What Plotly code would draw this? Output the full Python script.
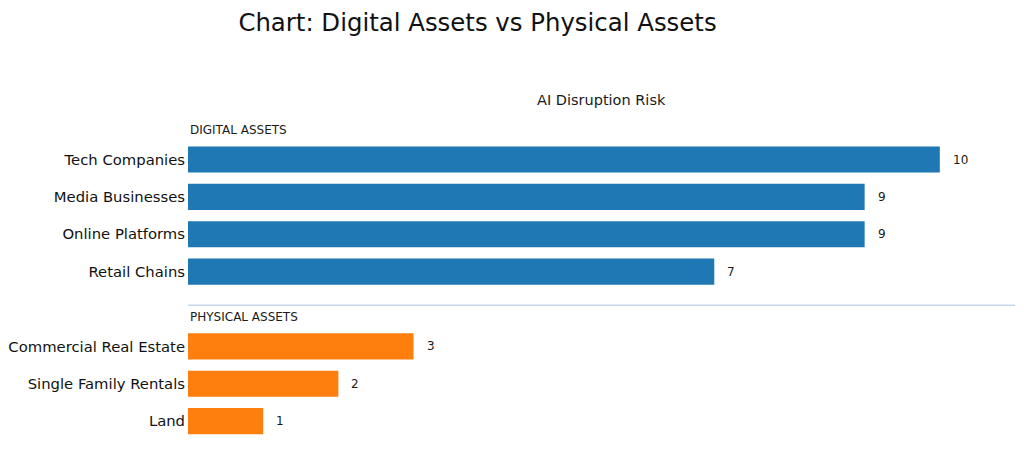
import plotly.graph_objects as go

# ---- data ----
digital_labels = ["Tech Companies", "Media Businesses", "Online Platforms", "Retail Chains"]
digital_values = [10, 9, 9, 7]
physical_labels = ["Commercial Real Estate", "Single Family Rentals", "Land"]
physical_values = [3, 2, 1]
group_titles = ["DIGITAL ASSETS", "PHYSICAL ASSETS"]
title_text = "Chart: Digital Assets vs Physical Assets"
axis_title = "AI Disruption Risk"

BLUE = "#1f77b4"
ORANGE = "#ff7f0e"
FONT = "DejaVu Sans"

# positions: groups separated by one empty slot
digital_pos = list(range(len(digital_labels)))
physical_start = len(digital_labels) + 1
physical_pos = [physical_start + i for i in range(len(physical_labels))]

fig = go.Figure()
fig.add_trace(go.Bar(x=digital_values, y=digital_pos, orientation="h",
                     marker=dict(color=BLUE, line=dict(width=0)), width=0.7,
                     hoverinfo="x+y", showlegend=False))
fig.add_trace(go.Bar(x=physical_values, y=physical_pos, orientation="h",
                     marker=dict(color=ORANGE, line=dict(width=0)), width=0.7,
                     hoverinfo="x+y", showlegend=False))

annotations = []
for v, p in zip(digital_values + physical_values, digital_pos + physical_pos):
    annotations.append(dict(x=v, y=p, xref="x", yref="y", text=str(v),
                            showarrow=False, xanchor="left", yanchor="middle",
                            xshift=11, font=dict(family=FONT, size=12, color="#1a1a1a")))

# group headers
for title, first in zip(group_titles, [digital_pos[0], physical_pos[0]]):
    annotations.append(dict(x=0, y=first - 0.78, xref="paper", yref="y", text=title,
                            showarrow=False, xanchor="left", yanchor="middle",
                            font=dict(family=FONT, size=12, color="#1a1a1a")))

# axis title above plot
annotations.append(dict(x=0.5, y=1, xref="paper", yref="paper", text=axis_title,
                        showarrow=False, xanchor="center", yanchor="bottom",
                        font=dict(family=FONT, size=14.5, color="#1a1a1a")))

sep_y = len(digital_labels) - 0.1
fig.add_shape(type="line", xref="paper", yref="y", x0=0, x1=1, y0=sep_y, y1=sep_y,
              line=dict(color="#c6d9ec", width=1.5))

fig.update_layout(
    width=1024, height=460,
    margin=dict(l=180, r=17, t=102, b=23, autoexpand=False),
    paper_bgcolor="white", plot_bgcolor="white",
    title=dict(text=title_text, x=469.5 / 1024, xanchor="center",
               y=1 - 14 / 460, yanchor="middle", xref="container", yref="container",
               font=dict(family=FONT, size=24.4, color="#111")),
    font=dict(family=FONT),
    annotations=annotations,
    bargap=0.3,
)
fig.update_xaxes(range=[0, 11], visible=False, showgrid=False, zeroline=False)
fig.update_yaxes(range=[7.64, -1.325], tickmode="array",
                 tickvals=digital_pos + physical_pos,
                 ticktext=digital_labels + physical_labels,
                 showgrid=False, zeroline=False, showline=False, ticks="",
                 ticklabelstandoff=2, automargin=False,
                 tickfont=dict(family=FONT, size=14.8, color="#111"))

fig.write_html("out.html")
